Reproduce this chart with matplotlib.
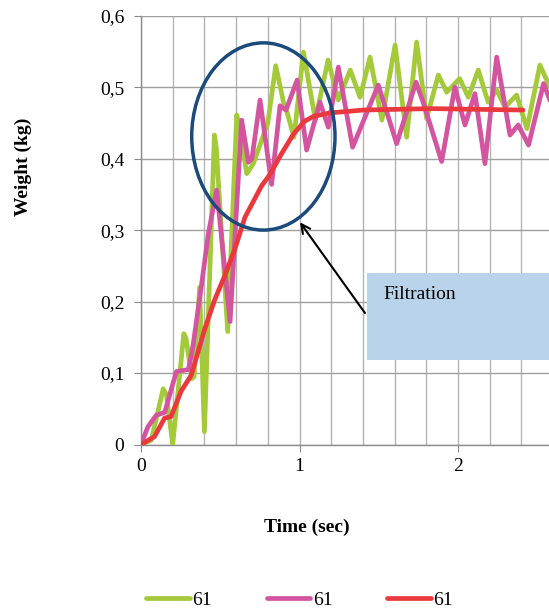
import matplotlib
matplotlib.use("Agg")
import matplotlib.pyplot as plt
import matplotlib.ticker as ticker
from matplotlib.patches import Ellipse, Rectangle

# Load cell readings (time in seconds, weight in kg)
green_t = [0.00, 0.065, 0.14, 0.16, 0.20, 0.27, 0.285, 0.32, 0.335, 0.37, 0.40,
           0.463, 0.475, 0.547, 0.604, 0.62, 0.667, 0.709, 0.80, 0.85, 0.90,
           0.915, 0.965, 1.025, 1.10, 1.18, 1.245, 1.32, 1.382, 1.445, 1.52,
           1.603, 1.676, 1.739, 1.802, 1.876, 1.929, 2.01, 2.065, 2.128, 2.19,
           2.244, 2.297, 2.37, 2.435, 2.517, 2.60]
green_w = [0.000, 0.006, 0.078, 0.070, 0.000, 0.155, 0.148, 0.092, 0.095, 0.220,
           0.018, 0.433, 0.415, 0.158, 0.461, 0.445, 0.379, 0.393, 0.450, 0.530,
           0.478, 0.470, 0.430, 0.549, 0.454, 0.538, 0.482, 0.524, 0.486, 0.542,
           0.454, 0.559, 0.430, 0.563, 0.456, 0.517, 0.493, 0.512, 0.486, 0.524,
           0.479, 0.496, 0.472, 0.489, 0.442, 0.531, 0.490]

pink_t = [0.00, 0.044, 0.097, 0.15, 0.223, 0.276, 0.30, 0.33, 0.383, 0.425,
          0.477, 0.49, 0.562, 0.635, 0.678, 0.70, 0.751, 0.824, 0.877, 0.915,
          0.985, 1.045, 1.129, 1.182, 1.245, 1.335, 1.497, 1.613, 1.735, 1.78,
          1.897, 1.98, 2.044, 2.107, 2.17, 2.244, 2.328, 2.38, 2.445, 2.54, 2.60]
pink_w = [0.000, 0.025, 0.041, 0.045, 0.102, 0.104, 0.105, 0.141, 0.225, 0.295,
          0.356, 0.330, 0.172, 0.454, 0.395, 0.400, 0.482, 0.364, 0.474, 0.468,
          0.510, 0.412, 0.479, 0.444, 0.528, 0.416, 0.503, 0.421, 0.507, 0.479,
          0.396, 0.500, 0.447, 0.491, 0.393, 0.542, 0.433, 0.447, 0.419, 0.505,
          0.470]

# Filtered signal
red_t = [0.00, 0.085, 0.149, 0.189, 0.254, 0.317, 0.40, 0.464, 0.53, 0.593,
         0.656, 0.761, 0.814, 0.887, 0.961, 1.03, 1.087, 1.192, 1.403, 1.83, 2.41]
red_w = [0.000, 0.011, 0.037, 0.039, 0.075, 0.097, 0.160, 0.202, 0.237, 0.274,
         0.318, 0.362, 0.378, 0.407, 0.434, 0.452, 0.459, 0.464, 0.468, 0.470,
         0.468]

series_labels = ["61", "61", "61"]
x_ticks = [0, 1, 2]
y_ticks = [0, 0.1, 0.2, 0.3, 0.4, 0.5, 0.6]

GREEN = "#a4c93a"
PINK = "#d4559f"
RED = "#e9393f"
NAVY = "#1c4a7a"
GRID = "#b4b4b4"

plt.rcParams["font.family"] = ["Liberation Serif", "DejaVu Serif"]

W, H = 549, 610
fig = plt.figure(figsize=(W / 100, H / 100), dpi=100)

# plot area runs past the right edge of the figure
left, top, bottom = 141, 15.7, 444.5
ax = fig.add_axes([left / W, (H - bottom) / H, 3 * 158.5 / W, (bottom - top) / H])
ax.set_xlim(0, 3)
ax.set_ylim(0, 0.6)

lw = 3.4
style = dict(lw=lw, solid_joinstyle="round", solid_capstyle="round")
ax.plot(green_t, green_w, color=GREEN, label=series_labels[0], zorder=3, **style)
ax.plot(pink_t, pink_w, color=PINK, label=series_labels[1], zorder=4, **style)
ax.plot(red_t, red_w, color=RED, label=series_labels[2], zorder=5, **style)

# grid: horizontal every 0.1, vertical every 0.2 s
ax.set_xticks(x_ticks)
ax.xaxis.set_minor_locator(ticker.MultipleLocator(0.2))
ax.set_yticks(y_ticks)
ax.yaxis.set_major_formatter(ticker.FuncFormatter(
    lambda v, _: "0" if v == 0 else f"{v:.1f}".replace(".", ",")))
ax.grid(True, which="major", axis="y", color="#a0a0a0", lw=1.0)
ax.grid(True, which="both", axis="x", color=GRID, lw=1.0)
ax.set_axisbelow(True)
for s in ["top", "right"]:
    ax.spines[s].set_visible(False)
for s in ["left", "bottom"]:
    ax.spines[s].set_color("#8c8c8c")
    ax.spines[s].set_linewidth(1.0)
ax.tick_params(axis="both", which="major", direction="out", length=5,
               color="#8c8c8c", labelsize=14, pad=5)
ax.tick_params(axis="y", pad=7)
ax.tick_params(axis="x", which="minor", length=0)

# highlight the oscillating rise
ax.add_patch(Ellipse((0.772, 0.431), 0.904, 0.262, fill=False,
                     edgecolor=NAVY, lw=2.5, zorder=6))
ax.annotate("", xy=(1.003, 0.311), xytext=(1.413, 0.184),
            arrowprops=dict(arrowstyle="->", color="black", lw=1.5,
                            mutation_scale=16, shrinkA=0, shrinkB=0),
            zorder=7)
ax.add_patch(Rectangle((1.426, 0.118), 2.0, 0.122, facecolor="#b9d3ea",
                       edgecolor="none", zorder=7))
ax.text(1.527, 0.2105, "Filtration", fontsize=14, va="center", ha="left",
        zorder=8)

fig.text(306.7 / W, 1 - 527 / H, "Time (sec)", fontsize=14, fontweight="bold",
         ha="center", va="center")
fig.text(23 / W, 1 - 167 / H, "Weight (kg)", fontsize=14, fontweight="bold",
         ha="center", va="center", rotation=90)

handles, labels = ax.get_legend_handles_labels()
fig.legend(handles, labels, loc="center", bbox_to_anchor=(299.5 / W, 1 - 600 / H),
           ncol=3, frameon=False, fontsize=14, handlelength=2.25,
           handletextpad=0.12, columnspacing=2.8)

fig.savefig("out.png", dpi=100)
